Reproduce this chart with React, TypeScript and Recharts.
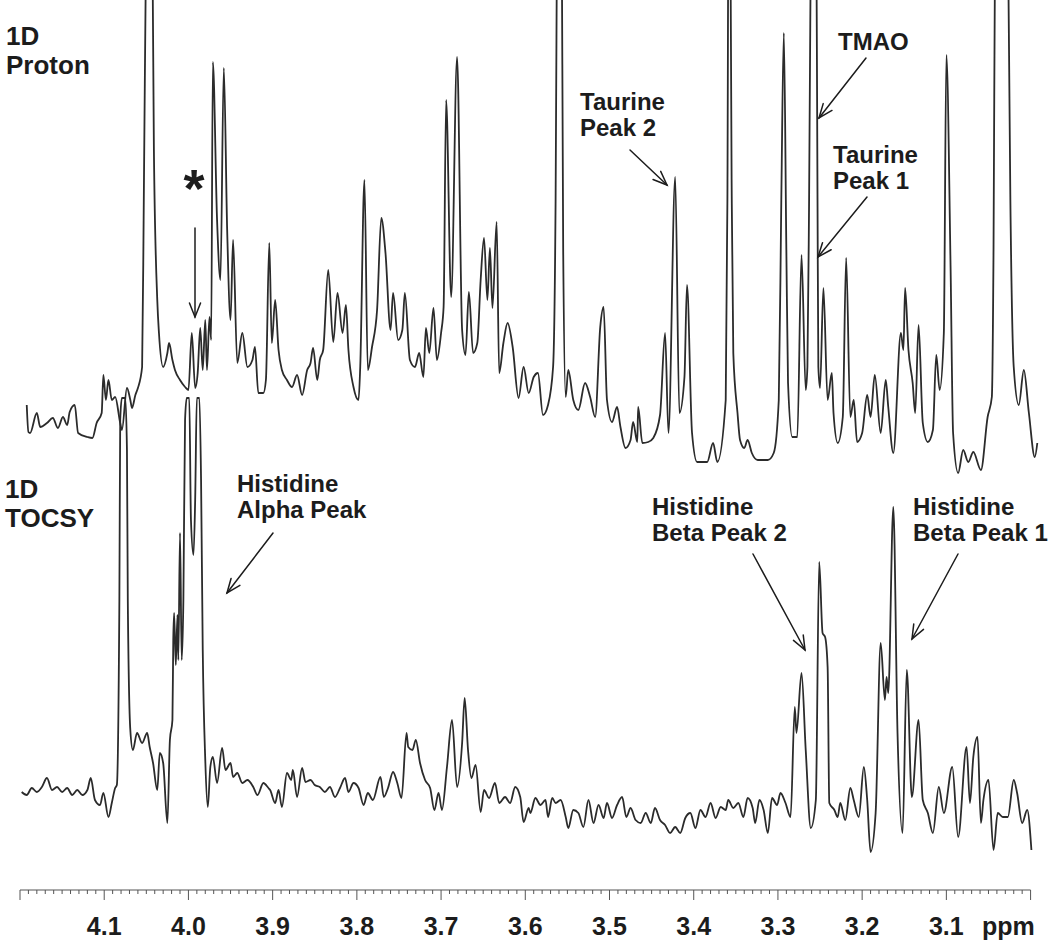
import { LineChart, Line, XAxis, YAxis, ReferenceLine } from "recharts"

// 1D proton spectrum (chemical shift in ppm, intensity in arbitrary units)
const protonPpm = [
  4.192, 4.190, 4.188, 4.180, 4.176, 4.168, 4.161, 4.155, 4.149, 4.144,
  4.141, 4.135, 4.131, 4.120, 4.114, 4.109, 4.103, 4.101, 4.098, 4.095,
  4.091, 4.087, 4.081, 4.079, 4.073, 4.069, 4.067, 4.063, 4.060, 4.055,
  4.053, 4.050, 4.047, 4.043, 4.041, 4.037, 4.035, 4.030, 4.025, 4.023,
  4.019, 4.016, 4.010, 4.004, 4.000, 3.996, 3.992, 3.989, 3.986, 3.983,
  3.980, 3.978, 3.975, 3.973, 3.971, 3.966, 3.962, 3.958, 3.954, 3.950,
  3.947, 3.942, 3.936, 3.930, 3.924, 3.921, 3.917, 3.911, 3.908, 3.904,
  3.901, 3.897, 3.893, 3.889, 3.883, 3.877, 3.871, 3.865, 3.859, 3.855,
  3.852, 3.847, 3.844, 3.840, 3.834, 3.828, 3.823, 3.817, 3.813, 3.810,
  3.804, 3.798, 3.796, 3.791, 3.787, 3.782, 3.776, 3.771, 3.766, 3.760,
  3.757, 3.751, 3.746, 3.743, 3.737, 3.731, 3.726, 3.721, 3.718, 3.714,
  3.709, 3.705, 3.700, 3.697, 3.694, 3.688, 3.681, 3.675, 3.671, 3.667,
  3.662, 3.657, 3.653, 3.649, 3.645, 3.642, 3.639, 3.634, 3.631, 3.626,
  3.621, 3.615, 3.608, 3.602, 3.596, 3.590, 3.585, 3.579, 3.573, 3.567,
  3.564, 3.562, 3.560, 3.557, 3.555, 3.552, 3.549, 3.543, 3.537, 3.529,
  3.523, 3.517, 3.511, 3.507, 3.503, 3.497, 3.491, 3.487, 3.481, 3.475,
  3.472, 3.467, 3.466, 3.461, 3.454, 3.448, 3.440, 3.434, 3.430, 3.422,
  3.417, 3.411, 3.408, 3.402, 3.396, 3.384, 3.377, 3.372, 3.362, 3.360,
  3.358, 3.355, 3.353, 3.348, 3.345, 3.340, 3.336, 3.331, 3.324, 3.312,
  3.305, 3.299, 3.296, 3.293, 3.290, 3.288, 3.283, 3.277, 3.272, 3.267,
  3.265, 3.263, 3.260, 3.258, 3.255, 3.253, 3.252, 3.250, 3.246, 3.241,
  3.236, 3.234, 3.229, 3.223, 3.219, 3.214, 3.210, 3.206, 3.200, 3.194,
  3.190, 3.185, 3.178, 3.172, 3.169, 3.163, 3.154, 3.151, 3.149, 3.145,
  3.140, 3.137, 3.133, 3.128, 3.122, 3.116, 3.112, 3.108, 3.103, 3.100,
  3.095, 3.092, 3.086, 3.080, 3.074, 3.068, 3.059, 3.051, 3.046, 3.044,
  3.042, 3.034, 3.027, 3.024, 3.020, 3.014, 3.008, 3.002, 2.995, 2.992,
]
const protonIntensity = [
  75, 48, 47, 67, 53, 57, 62, 52, 63, 55,
  68, 75, 47, 43, 42, 57, 67, 105, 80, 100,
  80, 83, 57, 50, 92, 80, 72, 85, 92, 113,
  280, 560, 700, 560, 330, 180, 147, 113, 127, 137,
  120, 110, 100, 93, 90, 147, 92, 107, 152, 110,
  160, 110, 163, 140, 418, 260, 200, 412, 250, 160,
  240, 117, 147, 113, 120, 133, 87, 87, 100, 237,
  137, 180, 130, 110, 100, 93, 105, 85, 110, 117,
  132, 100, 120, 130, 210, 138, 187, 147, 175, 130,
  93, 80, 113, 300, 110, 133, 170, 262, 227, 150,
  187, 140, 150, 187, 120, 113, 127, 103, 152, 127,
  172, 120, 147, 173, 380, 183, 423, 150, 125, 188,
  127, 137, 200, 242, 180, 232, 172, 258, 107, 137,
  157, 133, 82, 113, 87, 103, 107, 65, 75, 113,
  280, 600, 750, 600, 230, 83, 110, 80, 70, 97,
  83, 63, 153, 173, 80, 58, 73, 53, 32, 40,
  58, 38, 73, 37, 38, 42, 65, 147, 47, 303,
  67, 103, 195, 47, 18, 18, 37, 18, 80, 280,
  750, 300, 127, 67, 40, 32, 40, 27, 20, 20,
  27, 80, 280, 447, 230, 97, 43, 43, 225, 90,
  113, 280, 650, 780, 650, 280, 113, 92, 192, 80,
  107, 67, 37, 63, 222, 63, 80, 38, 47, 85,
  63, 105, 47, 100, 73, 27, 147, 130, 192, 130,
  97, 67, 155, 57, 38, 50, 125, 90, 147, 425,
  213, 47, 7, 30, 18, 28, 10, 63, 83, 230,
  560, 800, 560, 280, 113, 75, 110, 67, 23, 37,
]

// 1D TOCSY spectrum
const tocsyPpm = [
  4.198, 4.192, 4.186, 4.180, 4.174, 4.168, 4.162, 4.156, 4.150, 4.144,
  4.138, 4.132, 4.126, 4.120, 4.116, 4.111, 4.105, 4.101, 4.095, 4.091,
  4.087, 4.085, 4.082, 4.081, 4.079, 4.075, 4.073, 4.072, 4.069, 4.066,
  4.061, 4.055, 4.049, 4.046, 4.042, 4.037, 4.034, 4.030, 4.025, 4.022,
  4.019, 4.018, 4.017, 4.015, 4.013, 4.012, 4.010, 4.008, 4.006, 4.004,
  4.002, 3.999, 3.997, 3.994, 3.992, 3.990, 3.987, 3.985, 3.983, 3.980,
  3.977, 3.974, 3.971, 3.966, 3.960, 3.956, 3.950, 3.947, 3.942, 3.936,
  3.930, 3.923, 3.918, 3.911, 3.905, 3.903, 3.897, 3.893, 3.889, 3.883,
  3.878, 3.876, 3.871, 3.865, 3.861, 3.855, 3.850, 3.844, 3.838, 3.832,
  3.826, 3.820, 3.814, 3.810, 3.804, 3.798, 3.792, 3.787, 3.781, 3.772,
  3.768, 3.763, 3.757, 3.752, 3.747, 3.741, 3.739, 3.734, 3.730, 3.725,
  3.719, 3.713, 3.708, 3.703, 3.699, 3.693, 3.687, 3.681, 3.675, 3.672,
  3.668, 3.664, 3.659, 3.653, 3.649, 3.643, 3.636, 3.631, 3.624, 3.618,
  3.612, 3.606, 3.602, 3.596, 3.594, 3.588, 3.582, 3.576, 3.573, 3.568,
  3.564, 3.558, 3.552, 3.549, 3.543, 3.537, 3.531, 3.525, 3.519, 3.513,
  3.507, 3.503, 3.497, 3.491, 3.485, 3.480, 3.475, 3.469, 3.463, 3.457,
  3.451, 3.446, 3.440, 3.434, 3.428, 3.422, 3.416, 3.410, 3.404, 3.398,
  3.392, 3.386, 3.380, 3.374, 3.368, 3.362, 3.359, 3.353, 3.347, 3.341,
  3.336, 3.330, 3.327, 3.322, 3.317, 3.312, 3.307, 3.301, 3.297, 3.291,
  3.285, 3.280, 3.278, 3.272, 3.267, 3.261, 3.255, 3.251, 3.247, 3.244,
  3.241, 3.239, 3.233, 3.229, 3.226, 3.220, 3.214, 3.210, 3.204, 3.198,
  3.194, 3.190, 3.184, 3.178, 3.173, 3.171, 3.169, 3.163, 3.158, 3.152,
  3.147, 3.141, 3.133, 3.128, 3.122, 3.116, 3.109, 3.103, 3.093, 3.086,
  3.076, 3.072, 3.068, 3.063, 3.059, 3.056, 3.050, 3.044, 3.039, 3.033,
  3.027, 3.020, 3.016, 3.010, 3.004, 2.999,
]
const tocsyIntensity = [
  88, 85, 92, 88, 93, 102, 90, 93, 88, 92,
  85, 90, 85, 90, 102, 80, 75, 87, 63, 77,
  92, 95, 280, 460, 482, 482, 430, 280, 150, 130,
  147, 137, 147, 133, 117, 90, 127, 117, 57, 140,
  160, 240, 267, 215, 265, 220, 347, 220, 280, 460,
  482, 482, 360, 325, 380, 482, 482, 400, 230, 120,
  73, 113, 123, 97, 132, 110, 117, 103, 107, 97,
  100, 93, 85, 97, 92, 90, 77, 90, 73, 107,
  100, 110, 83, 112, 98, 100, 95, 93, 88, 93,
  83, 92, 102, 88, 97, 92, 75, 87, 80, 103,
  83, 92, 108, 97, 82, 147, 133, 130, 140, 117,
  100, 92, 70, 87, 70, 113, 160, 93, 137, 182,
  130, 102, 115, 68, 90, 82, 97, 77, 83, 77,
  93, 83, 58, 72, 67, 82, 75, 80, 63, 82,
  77, 80, 63, 52, 70, 67, 53, 80, 57, 75,
  62, 77, 62, 75, 83, 63, 72, 60, 57, 67,
  57, 72, 60, 55, 47, 53, 47, 62, 67, 52,
  70, 63, 77, 62, 73, 70, 80, 72, 77, 63,
  82, 72, 57, 80, 70, 47, 82, 75, 87, 77,
  63, 173, 147, 207, 130, 52, 80, 318, 247, 243,
  213, 77, 70, 63, 77, 60, 92, 80, 63, 113,
  80, 28, 67, 237, 180, 203, 187, 373, 147, 47,
  210, 83, 160, 80, 67, 47, 93, 67, 113, 43,
  133, 77, 123, 143, 57, 80, 100, 30, 67, 63,
  63, 100, 87, 57, 70, 30,
]

const majorTicks = [4.2, 4.1, 4.0, 3.9, 3.8, 3.7, 3.6, 3.5, 3.4, 3.3, 3.2, 3.1, 3.0]
const labelTicks = [4.1, 4.0, 3.9, 3.8, 3.7, 3.6, 3.5, 3.4, 3.3, 3.2, 3.1]
const tickLabels = ["4.1", "4.0", "3.9", "3.8", "3.7", "3.6", "3.5", "3.4", "3.3", "3.2", "3.1"]

// minor ticks every 0.01 ppm between the major ones
const allTicks: number[] = []
for (let h = 420; h >= 300; h--) allTicks.push(h / 100)

const protonData = protonPpm.map((ppm, i) => ({ ppm, intensity: protonIntensity[i] }))
const tocsyData = tocsyPpm.map((ppm, i) => ({ ppm, intensity: tocsyIntensity[i] }))

const FONT = '"Liberation Sans", Arial, Helvetica, sans-serif'
const INK = "#1c1c1c"
const LINE = "#2b2b2b"

function AxisTick(props: any) {
  const { x, y, payload } = props
  const v = payload.value as number
  const isMajor = majorTicks.some((t) => Math.abs(t - v) < 1e-6)
  const idx = labelTicks.findIndex((t) => Math.abs(t - v) < 1e-6)
  return (
    <g>
      <line x1={x} x2={x} y1={y} y2={y + (isMajor ? 10 : 4)} stroke="#555" strokeWidth={1} />
      {idx >= 0 && (
        <text x={x} y={y + 45} textAnchor="middle" fontFamily={FONT} fontWeight="bold" fontSize={25} fill={INK}>
          {tickLabels[idx]}
        </text>
      )}
    </g>
  )
}

function Arrow({ x1, y1, x2, y2 }: { x1: number; y1: number; x2: number; y2: number }) {
  const a = Math.atan2(y2 - y1, x2 - x1)
  const len = 15
  const spread = 0.38
  const ax = x2 - len * Math.cos(a - spread)
  const ay = y2 - len * Math.sin(a - spread)
  const bx = x2 - len * Math.cos(a + spread)
  const by = y2 - len * Math.sin(a + spread)
  return (
    <g stroke={INK} strokeWidth={1.5} fill="none" strokeLinecap="round">
      <line x1={x1} y1={y1} x2={x2} y2={y2} />
      <polyline points={`${ax},${ay} ${x2},${y2} ${bx},${by}`} />
    </g>
  )
}

function Label({ x, y, lines, size = 24, gap = 26 }: { x: number; y: number; lines: string[]; size?: number; gap?: number }) {
  return (
    <g fontFamily={FONT} fontWeight="bold" fontSize={size} fill={INK}>
      {lines.map((l, i) => (
        <text key={i} x={x} y={y + i * gap}>
          {l}
        </text>
      ))}
    </g>
  )
}

export default function App() {
  return (
    <div style={{ position: "absolute", left: 0, top: 0, width: 1050, height: 942, background: "#fff" }}>
      <LineChart width={1050} height={942} margin={{ top: 0, right: 11, bottom: 0, left: 20 }}>
        <XAxis
          dataKey="ppm"
          type="number"
          domain={[2.99, 4.2]}
          reversed
          allowDataOverflow
          ticks={allTicks}
          interval={0}
          tick={(p: any) => <AxisTick {...p} />}
          tickSize={0}
          tickMargin={0}
          axisLine={false}
          tickLine={false}
          height={52}
        />
        <YAxis yAxisId="proton" hide domain={[-410, 480]} allowDataOverflow />
        <YAxis yAxisId="tocsy" hide domain={[-10, 880]} allowDataOverflow />
        <ReferenceLine
          yAxisId="tocsy"
          segment={[{ x: 4.2, y: -10 }, { x: 3.0, y: -10 }]}
          stroke="#555"
          strokeWidth={1.2}
        />
        <Line
          data={tocsyData}
          dataKey="intensity"
          yAxisId="tocsy"
          type="monotoneX"
          dot={false}
          activeDot={false}
          stroke={LINE}
          strokeWidth={1.8}
          strokeLinejoin="round"
          isAnimationActive={false}
        />
        <Line
          data={protonData}
          dataKey="intensity"
          yAxisId="proton"
          type="monotoneX"
          dot={false}
          activeDot={false}
          stroke={LINE}
          strokeWidth={1.8}
          strokeLinejoin="round"
          isAnimationActive={false}
        />
      </LineChart>

      <svg width={1050} height={942} style={{ position: "absolute", left: 0, top: 0, pointerEvents: "none" }}>
        <Label x={6} y={45} lines={["1D", "Proton"]} size={26} gap={29} />
        <Label x={5} y={498} lines={["1D", "TOCSY"]} size={26} gap={29} />

        <text x={194} y={207} textAnchor="middle" fontFamily={FONT} fontWeight="bold" fontSize={54} fill={INK}>
          *
        </text>
        <Arrow x1={195} y1={228} x2={195} y2={317} />

        <Label x={838} y={50} lines={["TMAO"]} />
        <Arrow x1={866} y1={58} x2={819} y2={118} />

        <Label x={833} y={163} lines={["Taurine", "Peak 1"]} />
        <Arrow x1={867} y1={197} x2={818} y2={257} />

        <Label x={580} y={110} lines={["Taurine", "Peak 2"]} />
        <Arrow x1={630} y1={150} x2={667} y2={185} />

        <Label x={237} y={492} lines={["Histidine", "Alpha Peak"]} />
        <Arrow x1={273} y1={533} x2={227} y2={593} />

        <Label x={652} y={515} lines={["Histidine", "Beta Peak 2"]} />
        <Arrow x1={753} y1={554} x2={805} y2={650} />

        <Label x={913} y={515} lines={["Histidine", "Beta Peak 1"]} />
        <Arrow x1={958} y1={554} x2={912} y2={639} />

        <text x={982} y={935} fontFamily={FONT} fontWeight="bold" fontSize={25} fill={INK}>
          ppm
        </text>
      </svg>
    </div>
  )
}
